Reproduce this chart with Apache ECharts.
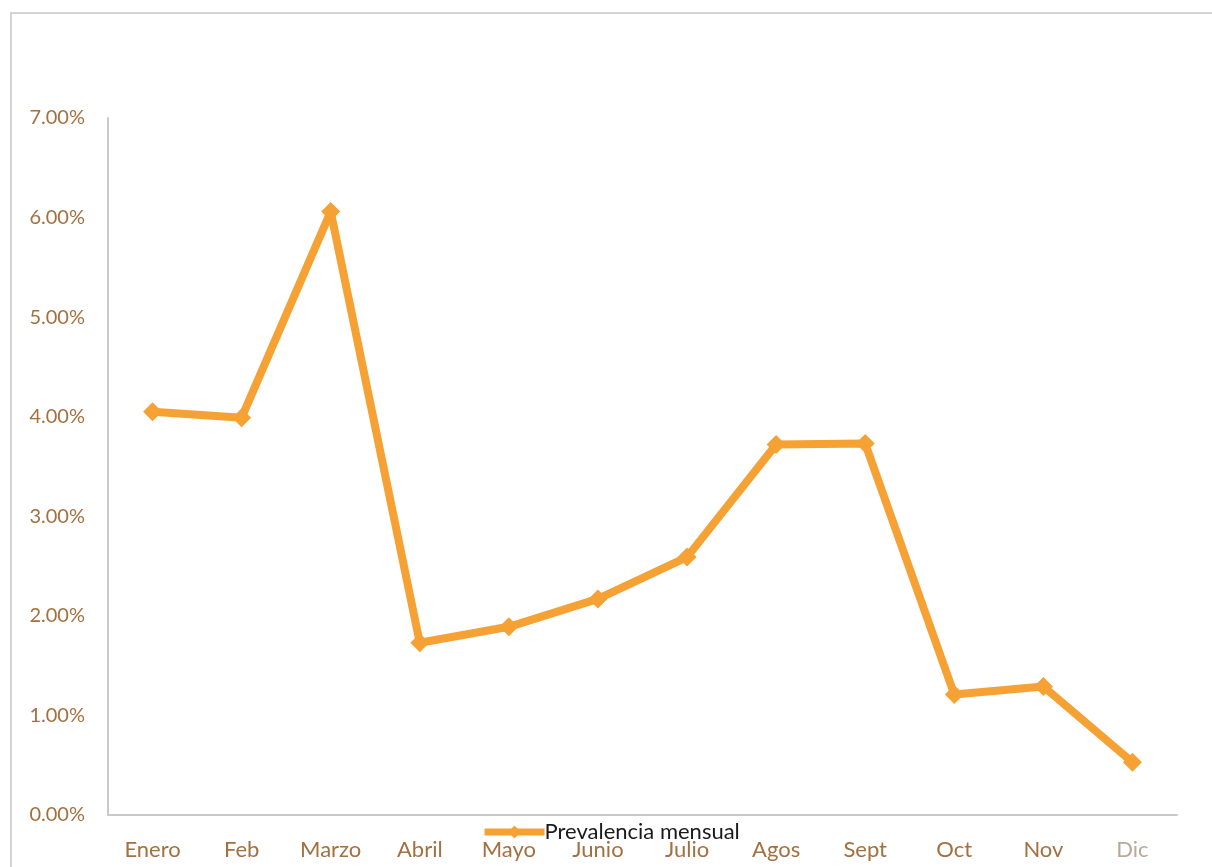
<!DOCTYPE html>
<html>
<head>
<meta charset="utf-8">
<script src="https://cdn.jsdelivr.net/npm/echarts@6/dist/echarts.min.js"></script>
<style>
  html, body { margin: 0; padding: 0; background: #ffffff; }
  #chart { width: 1212px; height: 867px; }
</style>
</head>
<body>
<div id="chart"></div>
<script>
// Monthly prevalence (percent)
const months = ['Enero', 'Feb', 'Marzo', 'Abril', 'Mayo', 'Junio', 'Julio', 'Agos', 'Sept', 'Oct', 'Nov', 'Dic'];
const prevalence = [4.05, 3.99, 6.06, 1.73, 1.89, 2.17, 2.59, 3.72, 3.73, 1.21, 1.29, 0.53];
const yTicks = [0, 1, 2, 3, 4, 5, 6, 7];

const labelColor = '#a3703f';
const lineColor = '#f5a133';

const chart = echarts.init(document.getElementById('chart'), null, { renderer: 'canvas' });

chart.setOption({
  backgroundColor: '#ffffff',
  animation: false,
  graphic: [{
    type: 'rect',
    shape: { x: 11, y: 13, width: 1230, height: 900 },
    style: { fill: 'none', stroke: '#d4d4d4', lineWidth: 2 },
    silent: true,
    z: -1
  }],
  grid: { left: 108, right: 35, top: 118, bottom: 52 },
  legend: {
    data: ['Prevalencia mensual'],
    left: 476,
    top: 816,
    itemWidth: 60,
    itemHeight: 16,
    itemGap: 4,
    lineStyle: { width: 7 },
    textStyle: { fontFamily: 'Lato', fontSize: 22, color: '#1a1a1a', padding: [0, 0, 0, -5] }
  },
  xAxis: {
    type: 'category',
    boundaryGap: true,
    data: months.map((m, i) => i === months.length - 1
      ? { value: m, textStyle: { color: '#b9a99a' } }
      : m),
    axisLine: { show: true, lineStyle: { color: '#c9c9c9', width: 2 } },
    axisTick: { show: false },
    axisLabel: { color: labelColor, fontFamily: 'Lato', fontSize: 22, margin: 24, interval: 0 },
    splitLine: { show: false }
  },
  yAxis: {
    type: 'value',
    min: yTicks[0],
    max: yTicks[yTicks.length - 1],
    interval: 1,
    axisLine: { show: true, lineStyle: { color: '#c9c9c9', width: 2 } },
    axisTick: { show: false },
    axisLabel: {
      color: labelColor, fontFamily: 'Lato', fontSize: 20, margin: 23,
      formatter: v => v.toFixed(2) + '%'
    },
    splitLine: { show: false }
  },
  series: [{
    name: 'Prevalencia mensual',
    type: 'line',
    data: prevalence,
    symbol: 'diamond',
    symbolSize: 19,
    lineStyle: { color: lineColor, width: 8 },
    itemStyle: { color: lineColor },
    z: 3
  }]
});
</script>
</body>
</html>
